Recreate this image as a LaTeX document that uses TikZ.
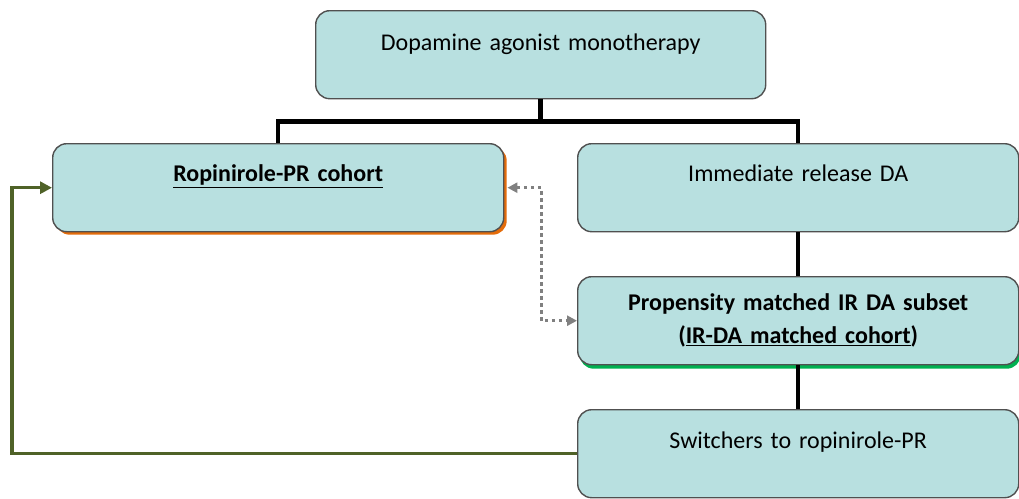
\documentclass[tikz,border=0pt]{standalone}
\usepackage{fontspec}
\setmainfont{Carlito}
\usetikzlibrary{shadows,arrows.meta}

\definecolor{boxfill}{HTML}{B8E0E0}
\definecolor{boxline}{HTML}{505050}
\definecolor{propshadow}{HTML}{E46C0A}
\definecolor{matchshadow}{HTML}{00B050}
\definecolor{switchgreen}{HTML}{4F6228}

\begin{document}
\begin{tikzpicture}[x=1pt, y=-1pt,
        >={Triangle[length=12pt, width=12pt]},
        box/.style={draw=boxline, line width=1.4pt, fill=boxfill,
            rounded corners=14pt, anchor=north west, inner sep=0pt,
            text width=#1, align=center, text height=38pt, text depth=50pt,
            font=\fontsize{24}{33}\selectfont},
        tree/.style={line width=4.5pt},
        dotlink/.style={<->, >={Triangle[length=10pt, width=10pt]},
            draw=gray, line width=3.5pt, dash pattern=on 3.5pt off 3.5pt},
        switchlink/.style={->, draw=switchgreen, line width=3.5pt}]
        \useasboundingbox (0, 0) rectangle (1019, 498);
        %\draw[color=lightgray, step=50] (0, 0) grid (1019, 498);
        \node[box=450, text height=40pt, text depth=48pt] (mono) at (315, 10)
            {Dopamine agonist monotherapy};
        \node[box=451, drop shadow={fill=propshadow, opacity=1,
            shadow xshift=3pt, shadow yshift=-3pt}] (rop) at (52, 143)
            {\textbf{\underline{Ropinirole-PR cohort}}};
        \node[box=441] (ir) at (577, 143) {Immediate release DA};
        \node[box=441, text height=34pt, text depth=54pt,
            drop shadow={fill=matchshadow, opacity=1,
            shadow xshift=2pt, shadow yshift=-4pt}] (match) at (577, 276)
            {\textbf{Propensity matched IR DA subset}\\
             \textbf{(\underline{IR-DA matched cohort})}};
        \node[box=441, text height=39pt, text depth=49pt] (switch) at (577, 409)
            {Switchers to ropinirole-PR};
        % tree
        \draw[tree] (mono.south) -- ++(0, 22) -| (rop.north);
        \draw[tree] (mono.south) -- ++(0, 22) -| (ir.north);
        \draw[tree] (ir.south) -- (match.north);
        \draw[tree] (match.south) -- (switch.north);
        % comparison and switch
        \draw[dotlink] (rop.east) ++(3, 0) -- ++(34, 0) |- (match.west);
        \draw[switchlink] (switch.west) -- ++(-565, 0) |- (rop.west);
\end{tikzpicture}
\end{document}
